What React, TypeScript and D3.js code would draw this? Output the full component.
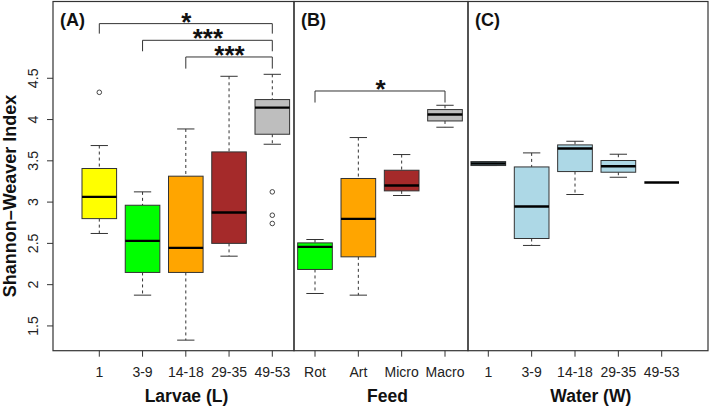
import React from "react";
import * as d3 from "d3";

// ---------- data ----------
const larvaeCats = ["1", "3-9", "14-18", "29-35", "49-53"];
const larvaeLow = [2.62, 1.873, 1.328, 2.345, 3.701];
const larvaeQ1 = [2.8, 2.148, 2.148, 2.5, 3.822];
const larvaeMed = [3.063, 2.53, 2.446, 2.874, 4.145];
const larvaeQ3 = [3.407, 2.962, 3.314, 3.608, 4.242];
const larvaeHigh = [3.685, 3.124, 3.886, 4.524, 4.548];
const larvaeOut = [[4.33], [], [], [], [3.124, 2.841, 2.741]];
const larvaeColors = ["#FFFF00", "#00FF00", "#FFA500", "#A52A2A", "#BEBEBE"];

const feedCats = ["Rot", "Art", "Micro", "Macro"];
const feedLow = [1.893, 1.873, 3.08, 3.907];
const feedQ1 = [2.184, 2.337, 3.136, 3.983];
const feedMed = [2.458, 2.797, 3.201, 4.061];
const feedQ3 = [2.506, 3.286, 3.386, 4.121];
const feedHigh = [2.547, 3.782, 3.576, 4.173];
const feedColors = ["#00FF00", "#FFA500", "#A52A2A", "#BEBEBE"];

const waterCats = ["1", "3-9", "14-18", "29-35", "49-53"];
const waterLow = [3.443, 2.475, 3.092, 3.301, 3.237];
const waterQ1 = [3.443, 2.559, 3.37, 3.362, 3.237];
const waterMed = [3.467, 2.947, 3.649, 3.435, 3.237];
const waterQ3 = [3.491, 3.426, 3.693, 3.504, 3.237];
const waterHigh = [3.491, 3.596, 3.737, 3.58, 3.237];
const waterColors = ["#ADD8E6", "#ADD8E6", "#ADD8E6", "#ADD8E6", "#ADD8E6"];

const yTicks = [1.5, 2, 2.5, 3, 3.5, 4, 4.5];
const yTickLabels = ["1.5", "2", "2.5", "3", "3.5", "4", "4.5"];

// significance brackets
const larvaeSigFrom = [0, 1, 2];
const larvaeSigTo = [4, 4, 4];
const larvaeSigLine = [5.162, 4.96, 4.758];
const larvaeSigLeg = [5.041, 4.827, 4.617];
const larvaeSigLabel = ["*", "***", "***"];

const feedSigFrom = [0];
const feedSigTo = [3];
const feedSigLine = [4.346];
const feedSigLeg = [4.206];
const feedSigLabel = ["*"];

// ---------- layout ----------
const W = 709;
const H = 408;
const top = 1.5;
const bottom = 350.7;
const FONT = "'Liberation Sans', Arial, Helvetica, sans-serif";
const STROKE = "#333";

const y = d3.scaleLinear().domain([1.2, 5.43]).range([bottom, top]);

type Panel = {
  left: number;
  right: number;
  x0: number;
  x1: number;
  titleX: number;
  cats: string[];
  low: number[];
  q1: number[];
  med: number[];
  q3: number[];
  high: number[];
  out?: number[][];
  colors: string[];
  title: string;
  tag: string;
  sig?: { from: number[]; to: number[]; line: number[]; leg: number[]; label: string[] };
};

const panels: Panel[] = [
  {
    left: 53, right: 294, x0: 99.3, x1: 272.3, titleX: 186.5,
    cats: larvaeCats, low: larvaeLow, q1: larvaeQ1, med: larvaeMed, q3: larvaeQ3, high: larvaeHigh,
    out: larvaeOut, colors: larvaeColors, title: "Larvae (L)", tag: "(A)",
    sig: { from: larvaeSigFrom, to: larvaeSigTo, line: larvaeSigLine, leg: larvaeSigLeg, label: larvaeSigLabel },
  },
  {
    left: 294, right: 468, x0: 315, x1: 445, titleX: 387.5,
    cats: feedCats, low: feedLow, q1: feedQ1, med: feedMed, q3: feedQ3, high: feedHigh,
    colors: feedColors, title: "Feed", tag: "(B)",
    sig: { from: feedSigFrom, to: feedSigTo, line: feedSigLine, leg: feedSigLeg, label: feedSigLabel },
  },
  {
    left: 468, right: 708, x0: 488.3, x1: 661.7, titleX: 590.8,
    cats: waterCats, low: waterLow, q1: waterQ1, med: waterMed, q3: waterQ3, high: waterHigh,
    colors: waterColors, title: "Water (W)", tag: "(C)",
  },
];

function PanelView({ p }: { p: Panel }) {
  const n = p.cats.length;
  const x = d3.scaleLinear().domain([0, n - 1]).range([p.x0, p.x1]);
  const step = (p.x1 - p.x0) / (n - 1);
  const bw = step * 0.8;
  const cw = bw / 2;
  return (
    <g>
      {p.cats.map((c, i) => {
        const cx = x(i);
        return (
          <g key={c + i}>
            <line x1={cx} x2={cx} y1={y(p.high[i])} y2={y(p.q3[i])} stroke={STROKE} strokeWidth={1} strokeDasharray="3,3" />
            <line x1={cx} x2={cx} y1={y(p.q1[i])} y2={y(p.low[i])} stroke={STROKE} strokeWidth={1} strokeDasharray="3,3" />
            <line x1={cx - cw / 2} x2={cx + cw / 2} y1={y(p.high[i])} y2={y(p.high[i])} stroke={STROKE} strokeWidth={1} />
            <line x1={cx - cw / 2} x2={cx + cw / 2} y1={y(p.low[i])} y2={y(p.low[i])} stroke={STROKE} strokeWidth={1} />
            <rect x={cx - bw / 2} y={y(p.q3[i])} width={bw} height={Math.max(0, y(p.q1[i]) - y(p.q3[i]))}
              fill={p.colors[i]} stroke={STROKE} strokeWidth={1} />
            <line x1={cx - bw / 2} x2={cx + bw / 2} y1={y(p.med[i])} y2={y(p.med[i])} stroke="#000" strokeWidth={2.4} />
            {p.out && p.out[i].map((o, k) => (
              <circle key={k} cx={cx} cy={y(o)} r={2.3} fill="none" stroke={STROKE} strokeWidth={0.9} />
            ))}
            <line x1={cx} x2={cx} y1={bottom} y2={bottom + 6} stroke={STROKE} strokeWidth={1} />
            <text x={cx} y={376.5} textAnchor="middle" fontSize={14} fontFamily={FONT} fill="#222">{c}</text>
          </g>
        );
      })}
      {p.sig && p.sig.from.map((f, k) => {
        const xa = x(f);
        const xb = x(p.sig!.to[k]);
        const yl = y(p.sig!.line[k]);
        const yg = y(p.sig!.leg[k]);
        return (
          <g key={"s" + k}>
            <path d={`M${xa},${yg}V${yl}H${xb}V${yg}`} fill="none" stroke={STROKE} strokeWidth={1} />
            <text x={(xa + xb) / 2 + 0.5} y={yl + 7} textAnchor="middle" fontSize={26} fontWeight="bold" fontFamily={FONT} fill="#111">
              {p.sig!.label[k]}
            </text>
          </g>
        );
      })}
      <rect x={p.left} y={top} width={p.right - p.left} height={bottom - top} fill="none" stroke={STROKE} strokeWidth={1.2} />
      <text x={p.left + 7} y={26} fontSize={18} fontWeight="bold" fontFamily={FONT} fill="#111">{p.tag}</text>
      <text x={p.titleX} y={402} textAnchor="middle" fontSize={17.5} fontWeight="bold" fontFamily={FONT} fill="#111">
        {p.title}
      </text>
    </g>
  );
}

export default function App() {
  return (
    <svg width={W} height={H} style={{ position: "absolute", left: 0, top: 0, background: "#fff" }}>
      <rect x={0} y={0} width={W} height={H} fill="#fff" />
      {yTicks.map((t, i) => (
        <g key={t}>
          <line x1={47} x2={53} y1={y(t)} y2={y(t)} stroke={STROKE} strokeWidth={1} />
          <text transform={`translate(38,${y(t)}) rotate(-90)`} textAnchor="middle" fontSize={14.2} fontFamily={FONT} fill="#222">
            {yTickLabels[i]}
          </text>
        </g>
      ))}
      <text transform={`translate(16.3,${196}) rotate(-90)`} textAnchor="middle" fontSize={18} fontWeight="bold" fontFamily={FONT} fill="#111">
        Shannon–Weaver Index
      </text>
      {panels.map((p) => <PanelView key={p.tag} p={p} />)}
    </svg>
  );
}
